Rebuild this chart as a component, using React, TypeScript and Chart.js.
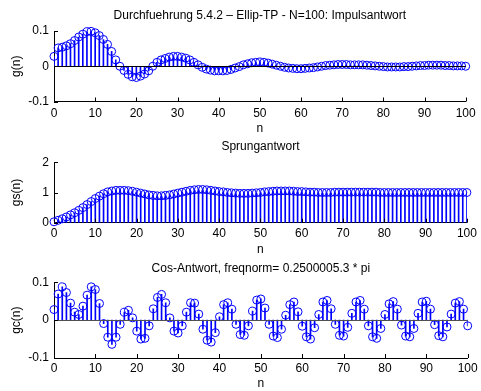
import { useEffect, useRef } from "react";
import { Chart, registerables } from "chart.js";

Chart.register(...registerables);

// ---------- data ----------
const xTicks = [0, 10, 20, 30, 40, 50, 60, 70, 80, 90, 100];
const gTicks = [-0.1, 0, 0.1];
const gsTicks = [0, 1, 2];
const gcTicks = [-0.1, 0, 0.1];

const titles = [
  "Durchfuehrung 5.4.2 \u2013 Ellip-TP - N=100: Impulsantwort",
  "Sprungantwort",
  "Cos-Antwort, freqnorm= 0.2500005.3 * pi",
];
const yLabels = ["g(n)", "gs(n)", "gc(n)"];
const xLabel = "n";

// Impulsantwort g(n), n = 0..100
const impulse = [
  0.028, 0.052, 0.054, 0.058, 0.064, 0.073, 0.083, 0.091, 0.098, 0.099,
  0.095, 0.087, 0.076, 0.062, 0.042, 0.018, 0.0, -0.012, -0.023, -0.030,
  -0.032, -0.028, -0.022, -0.013, 0.0, 0.011, 0.018, 0.022, 0.026, 0.028,
  0.028, 0.026, 0.023, 0.018, 0.011, 0.004, -0.003, -0.008, -0.011, -0.013,
  -0.013, -0.013, -0.012, -0.009, -0.005, -0.001, 0.004, 0.007, 0.010, 0.011,
  0.012, 0.011, 0.009, 0.006, 0.003, 0.0, -0.003, -0.005, -0.006, -0.007,
  -0.007, -0.006, -0.005, -0.004, -0.002, 0.0, 0.002, 0.003, 0.004, 0.005,
  0.005, 0.005, 0.004, 0.004, 0.004, 0.004, 0.003, 0.002, 0.001, 0.0,
  -0.001, -0.002, -0.002, -0.002, -0.002, -0.001, -0.001, 0.0, 0.001, 0.002,
  0.002, 0.003, 0.003, 0.003, 0.003, 0.002, 0.002, 0.001, 0.001, 0.001,
  0.0,
];

// Sprungantwort gs(n), n = 0..100
const step = [
  0.03, 0.08, 0.13, 0.19, 0.26, 0.33, 0.41, 0.50, 0.60, 0.70,
  0.80, 0.88, 0.96, 1.02, 1.05, 1.07, 1.07, 1.07, 1.06, 1.04,
  1.01, 0.98, 0.95, 0.92, 0.90, 0.89, 0.89, 0.90, 0.92, 0.95,
  0.98, 1.01, 1.04, 1.07, 1.09, 1.10, 1.10, 1.09, 1.07, 1.05,
  1.03, 1.02, 1.00, 0.99, 0.98, 0.97, 0.97, 0.97, 0.98, 0.99,
  1.00, 1.02, 1.03, 1.04, 1.05, 1.05, 1.05, 1.05, 1.04, 1.03,
  1.03, 1.02, 1.01, 1.01, 1.00, 1.00, 1.00, 1.00, 1.01, 1.01,
  1.01, 1.01, 1.01, 1.01, 1.01, 1.01, 1.01, 1.01, 1.01, 1.00,
  1.00, 1.00, 1.00, 1.00, 1.00, 1.00, 1.00, 1.00, 1.00, 1.00,
  1.00, 1.00, 1.00, 1.00, 1.00, 1.00, 1.00, 1.00, 1.00, 1.00,
  1.00,
];

// Cos-Antwort gc(n), n = 0..100
const cosResp = [
  0.028, 0.069, 0.088, 0.073, 0.045, 0.021, 0.015, 0.037, 0.066, 0.088,
  0.081, 0.044, -0.009, -0.045, -0.064, -0.045, -0.011, 0.021, 0.026, 0.006,
  -0.029, -0.050, -0.048, -0.015, 0.030, 0.060, 0.068, 0.046, 0.006, -0.029,
  -0.034, -0.015, 0.021, 0.046, 0.045, 0.016, -0.024, -0.053, -0.058, -0.033,
  0.009, 0.041, 0.046, 0.029, -0.011, -0.038, -0.040, -0.015, 0.024, 0.053,
  0.056, 0.032, -0.011, -0.042, -0.046, -0.024, 0.013, 0.041, 0.048, 0.022,
  -0.016, -0.044, -0.050, -0.020, 0.015, 0.048, 0.052, 0.030, -0.011, -0.040,
  -0.042, -0.019, 0.018, 0.048, 0.052, 0.029, -0.015, -0.044, -0.048, -0.022,
  0.015, 0.043, 0.049, 0.029, -0.013, -0.042, -0.044, -0.022, 0.018, 0.048,
  0.050, 0.029, -0.012, -0.041, -0.044, -0.018, 0.016, 0.045, 0.049, 0.029,
  -0.015,
];

// ---------- layout / style ----------
const W = 481;
const FONT = { family: '"Liberation Sans", Arial, Helvetica, sans-serif', size: 12, weight: "normal" as const };
const LH = 14.4;
const AXIS_LEFT = 54;
const AXIS_RIGHT = 469.3;
const BLUE = "#0000ff";

type Spec = {
  canvasTop: number;
  height: number;
  titleY: number;
  top: number;
  bottom: number;
  tickY: number;
  nY: number;
  title: string;
  yLabel: string;
  values: number[];
  yMin: number;
  yMax: number;
  yTicks: number[];
  baseline: string | null;
};

const specs: Spec[] = [
  { canvasTop: 0, height: 138, titleY: 16, top: 31, bottom: 101.5, tickY: 114, nY: 129,
    title: titles[0], yLabel: yLabels[0], values: impulse, yMin: -0.1, yMax: 0.1, yTicks: gTicks, baseline: "#000000" },
  { canvasTop: 135, height: 125, titleY: 12, top: 27.3, bottom: 87.7, tickY: 99, nY: 114.5,
    title: titles[1], yLabel: yLabels[1], values: step, yMin: 0, yMax: 2, yTicks: gsTicks, baseline: null },
  { canvasTop: 255, height: 136, titleY: 13.3, top: 27.3, bottom: 103, tickY: 113.5, nY: 129,
    title: titles[2], yLabel: yLabels[2], values: cosResp, yMin: -0.1, yMax: 0.1, yTicks: gcTicks, baseline: "#505050" },
];

const axisDecor = {
  id: "axisDecor",
  afterDatasetsDraw(chart: any, _args: any, opts: any) {
    const { ctx, chartArea: a } = chart;
    const x = chart.scales.x;
    const y = chart.scales.y;
    ctx.save();
    ctx.lineWidth = 1;
    if (opts && opts.baseline) {
      const py = Math.round(y.getPixelForValue(0)) + 0.5;
      ctx.strokeStyle = opts.baseline;
      ctx.beginPath();
      ctx.moveTo(a.left, py);
      ctx.lineTo(a.right, py);
      ctx.stroke();
    }
    ctx.strokeStyle = "#000";
    ctx.beginPath();
    x.ticks.forEach((t: any) => {
      const px = Math.round(x.getPixelForValue(t.value)) + 0.5;
      ctx.moveTo(px, a.bottom);
      ctx.lineTo(px, a.bottom - 4);
    });
    y.ticks.forEach((t: any) => {
      const py = Math.round(y.getPixelForValue(t.value)) + 0.5;
      ctx.moveTo(a.left, py);
      ctx.lineTo(a.left + 4, py);
    });
    ctx.stroke();
    ctx.restore();
  },
};

function makeConfig(s: Spec): any {
  const pts = s.values.map((v, i) => ({ x: i, y: v }));
  return {
    type: "bar",
    data: {
      datasets: [
        {
          type: "bar",
          data: pts,
          backgroundColor: BLUE,
          borderWidth: 0,
          barThickness: 1,
          grouped: false,
          order: 2,
        },
        {
          type: "line",
          data: pts,
          showLine: false,
          pointRadius: 4,
          pointBorderWidth: 1,
          pointBorderColor: BLUE,
          pointBackgroundColor: "rgba(0,0,0,0)",
          clip: false,
          order: 1,
        },
      ],
    },
    options: {
      animation: false,
      responsive: false,
      events: [],
      layout: { padding: { left: 0, right: W - AXIS_RIGHT, top: 0, bottom: 0 } },
      plugins: {
        legend: { display: false },
        tooltip: { enabled: false },
        title: {
          display: true,
          text: s.title,
          color: "#000",
          fullSize: false,
          font: FONT,
          padding: { top: s.titleY - LH / 2, bottom: s.top - s.titleY - LH / 2 },
        },
        axisDecor: { baseline: s.baseline },
      },
      scales: {
        x: {
          type: "linear",
          min: 0,
          max: 100,
          offset: false,
          grid: { display: false, drawTicks: false },
          border: { display: true, color: "#000", width: 1 },
          afterBuildTicks: (sc: any) => {
            sc.ticks = xTicks.map((v) => ({ value: v }));
          },
          afterFit: (sc: any) => {
            sc.height = s.height - s.bottom;
          },
          ticks: {
            color: "#000",
            font: FONT,
            padding: s.tickY - s.bottom - LH / 2,
            maxRotation: 0,
            autoSkip: false,
            callback: (v: any) => String(v),
          },
          title: {
            display: true,
            text: xLabel,
            color: "#000",
            font: FONT,
            padding: { top: 0, bottom: s.height - s.nY - LH / 2 },
          },
        },
        y: {
          type: "linear",
          min: s.yMin,
          max: s.yMax,
          grid: { display: false, drawTicks: false },
          border: { display: true, color: "#000", width: 1 },
          afterBuildTicks: (sc: any) => {
            sc.ticks = s.yTicks.map((v) => ({ value: v }));
          },
          afterFit: (sc: any) => {
            sc.width = AXIS_LEFT;
          },
          ticks: {
            color: "#000",
            font: FONT,
            padding: 5,
            callback: (v: any) => String(v),
          },
          title: {
            display: true,
            text: s.yLabel,
            color: "#000",
            font: FONT,
            padding: { top: 17 - LH / 2, bottom: 0 },
          },
        },
      },
    },
    plugins: [axisDecor],
  };
}

function StemPlot({ spec }: { spec: Spec }) {
  const ref = useRef<HTMLCanvasElement | null>(null);
  useEffect(() => {
    if (!ref.current) return;
    const chart = new Chart(ref.current, makeConfig(spec));
    return () => chart.destroy();
  }, [spec]);
  return (
    <canvas
      ref={ref}
      width={W}
      height={spec.height}
      style={{ position: "absolute", left: 0, top: spec.canvasTop, width: W, height: spec.height }}
    />
  );
}

export default function App() {
  return (
    <div style={{ position: "fixed", left: 0, top: 0, width: W, height: 391, background: "#fff", overflow: "hidden" }}>
      {specs.map((s, i) => (
        <StemPlot key={i} spec={s} />
      ))}
    </div>
  );
}
